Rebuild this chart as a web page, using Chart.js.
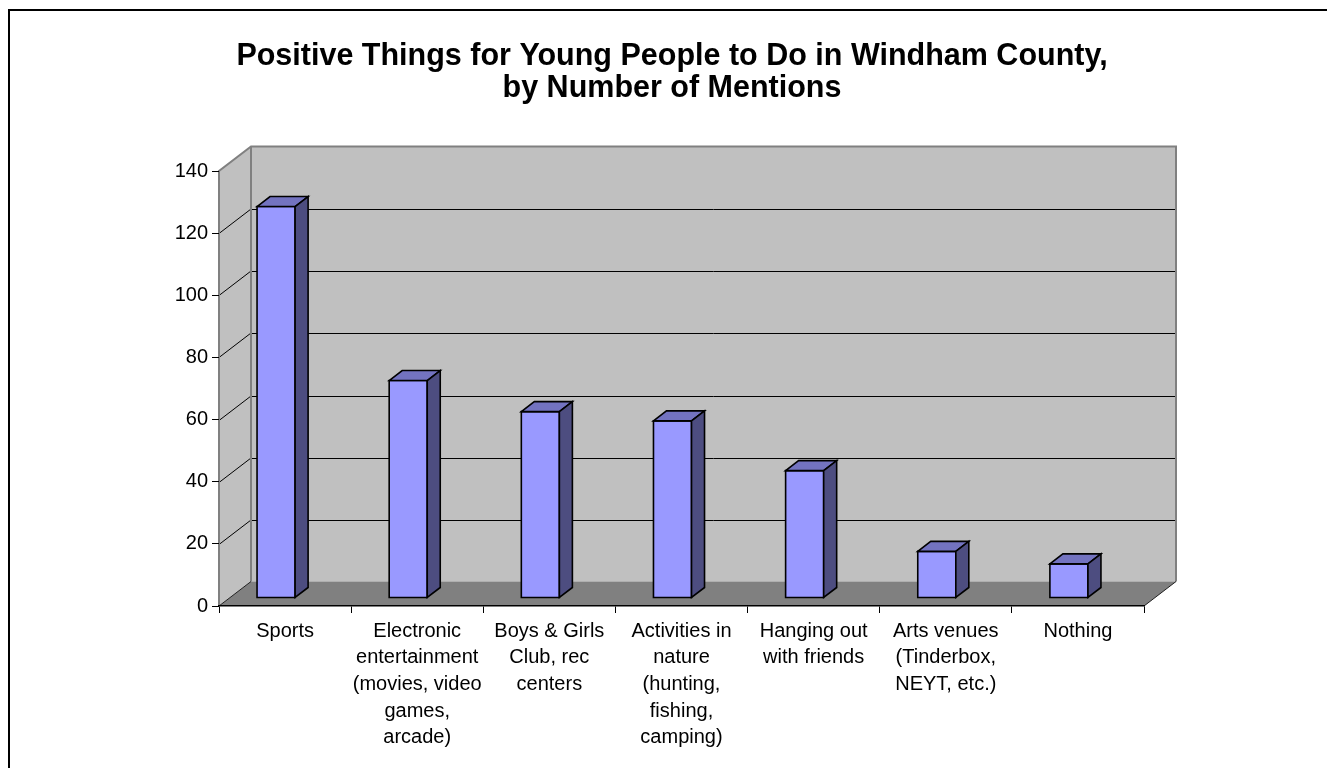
<!DOCTYPE html>
<html>
<head>
<meta charset="utf-8">
<script src="https://cdn.jsdelivr.net/npm/chart.js@4"></script>
<style>
  html, body { margin: 0; padding: 0; background: #fff; }
  canvas { display: block; }
</style>
</head>
<body>
<canvas id="mentions-chart" width="1327" height="768"></canvas>
<script>
const CATEGORIES = [
    'Sports',
    ['Electronic', 'entertainment', '(movies, video', 'games,', 'arcade)'],
    ['Boys & Girls', 'Club, rec', 'centers'],
    ['Activities in', 'nature', '(hunting,', 'fishing,', 'camping)'],
    ['Hanging out', 'with friends'],
    ['Arts venues', '(Tinderbox,', 'NEYT, etc.)'],
    'Nothing',
];
const MENTIONS = [126, 70, 60, 57, 41, 15, 11];
const Y_MIN = 0;
const Y_MAX = 140;
const Y_STEP = 20;

const TITLE_LINES = [
    'Positive Things for Young People to Do in Windham County,',
    'by Number of Mentions',
];

const FONT = "'Liberation Sans', Arial, sans-serif";

// depth of the wall box and of each bar, in pixels
const WALL_DX = 32;
const WALL_DY = -24.5;
const BAR_DX = 13;
const BAR_DY = -10;
// bars sit part way into the floor
const BAR_SHIFT_X = -9;
const BAR_SHIFT_Y = -8;

const poly = (ctx, pts, fill, stroke, lw) => {
    ctx.beginPath();
    ctx.moveTo(pts[0][0], pts[0][1]);
    for (let i = 1; i < pts.length; i++) ctx.lineTo(pts[i][0], pts[i][1]);
    ctx.closePath();
    if (fill) {
        ctx.fillStyle = fill;
        ctx.fill();
    }
    if (stroke) {
        ctx.strokeStyle = stroke;
        ctx.lineWidth = lw || 1;
        ctx.stroke();
    }
};

const line = (ctx, x1, y1, x2, y2, color, lw) => {
    ctx.beginPath();
    ctx.moveTo(x1, y1);
    ctx.lineTo(x2, y2);
    ctx.strokeStyle = color;
    ctx.lineWidth = lw || 1;
    ctx.stroke();
};

// walls, floor and gridlines behind the bars
const wallsPlugin = {
    id: 'walls3d',
    beforeDraw(chart) {
        const { ctx, chartArea: a, scales } = chart;
        const y = scales.y;
        const top = y.getPixelForValue(Y_MAX);
        const zero = y.getPixelForValue(Y_MIN);
        ctx.save();
        // side wall
        poly(ctx, [[a.left, top], [a.left + WALL_DX, top + WALL_DY], [a.left + WALL_DX, zero + WALL_DY], [a.left, zero]], '#c0c0c0');
        // back wall
        poly(ctx, [[a.left + WALL_DX, top + WALL_DY], [a.right + WALL_DX, top + WALL_DY], [a.right + WALL_DX, zero + WALL_DY], [a.left + WALL_DX, zero + WALL_DY]], '#c0c0c0');
        // gridlines
        for (let v = Y_MIN + Y_STEP; v < Y_MAX; v += Y_STEP) {
            const py = Math.round(y.getPixelForValue(v)) + 0.5;
            line(ctx, a.left, py, a.left + WALL_DX, py + WALL_DY, '#000', 1);
            line(ctx, a.left + WALL_DX, Math.round(py + WALL_DY) + 0.5, a.right + WALL_DX, Math.round(py + WALL_DY) + 0.5, '#000', 1);
        }
        // wall edges
        ctx.lineJoin = 'miter';
        ctx.beginPath();
        ctx.moveTo(a.left, zero);
        ctx.lineTo(a.left, top);
        ctx.lineTo(a.left + WALL_DX, top + WALL_DY);
        ctx.lineTo(a.right + WALL_DX, top + WALL_DY);
        ctx.lineTo(a.right + WALL_DX, zero + WALL_DY);
        ctx.moveTo(a.left + WALL_DX, top + WALL_DY);
        ctx.lineTo(a.left + WALL_DX, zero + WALL_DY);
        ctx.strokeStyle = '#808080';
        ctx.lineWidth = 2;
        ctx.stroke();
        // floor
        poly(ctx, [[a.left, zero], [a.right, zero], [a.right + WALL_DX, zero + WALL_DY], [a.left + WALL_DX, zero + WALL_DY]], '#808080');
        line(ctx, a.left, zero, a.left + WALL_DX, zero + WALL_DY, '#202020', 1);
        line(ctx, a.right, zero, a.right + WALL_DX, zero + WALL_DY, '#202020', 1);
        ctx.restore();
    },
};

// each bar drawn as a box from its element geometry
const boxesPlugin = {
    id: 'boxes3d',
    afterDatasetsDraw(chart) {
        const { ctx } = chart;
        const meta = chart.getDatasetMeta(0);
        ctx.save();
        ctx.lineJoin = 'miter';
        meta.data.forEach((bar) => {
            const l = bar.x - bar.width / 2 + BAR_SHIFT_X;
            const r = l + bar.width;
            const t = bar.y + BAR_SHIFT_Y;
            const b = bar.base + BAR_SHIFT_Y;
            poly(ctx, [[l, t], [r, t], [r, b], [l, b]], '#9999ff', '#000', 1.6);
            poly(ctx, [[l, t], [l + BAR_DX, t + BAR_DY], [r + BAR_DX, t + BAR_DY], [r, t]], '#7373c0', '#000', 1.6);
            poly(ctx, [[r, t], [r + BAR_DX, t + BAR_DY], [r + BAR_DX, b + BAR_DY], [r, b]], '#4d4d80', '#000', 1.6);
        });
        ctx.restore();
    },
};

const framePlugin = {
    id: 'frame',
    afterDraw(chart) {
        const { ctx, width, height } = chart;
        ctx.save();
        ctx.strokeStyle = '#000';
        ctx.lineWidth = 2;
        ctx.strokeRect(9, 10, width + 20, height + 20);
        ctx.restore();
    },
};

const buildConfig = () => ({
    type: 'bar',
    data: {
        labels: CATEGORIES,
        datasets: [
            {
                label: 'Mentions',
                data: MENTIONS,
                backgroundColor: 'rgba(0,0,0,0)',
                borderWidth: 0,
                categoryPercentage: 1,
                barPercentage: 0.288,
            },
        ],
    },
    options: {
        responsive: false,
        devicePixelRatio: 1,
        animation: false,
        layout: { padding: { left: 17, right: 0, top: 0, bottom: 0 } },
        plugins: {
            legend: { display: false },
            tooltip: { enabled: false },
            title: {
                display: true,
                text: TITLE_LINES,
                color: '#000',
                font: { family: FONT, size: 30.5, weight: 'bold', lineHeight: 1.05 },
                padding: { top: 41, bottom: 66 },
            },
        },
        scales: {
            x: {
                grid: {
                    offset: true,
                    drawOnChartArea: false,
                    drawTicks: true,
                    tickLength: 7,
                    color: '#000',
                },
                border: { display: true, color: '#000', width: 1.5 },
                ticks: {
                    color: '#000',
                    font: { family: FONT, size: 20, lineHeight: 1.33 },
                    padding: 5,
                    maxRotation: 0,
                    autoSkip: false,
                },
                afterFit: (scale) => {
                    scale.height = 162;
                },
            },
            y: {
                min: Y_MIN,
                max: Y_MAX,
                grid: {
                    drawOnChartArea: false,
                    drawTicks: true,
                    tickLength: 7,
                    tickColor: '#000',
                },
                border: { display: false },
                ticks: {
                    stepSize: Y_STEP,
                    color: '#000',
                    font: { family: FONT, size: 20 },
                    padding: 4,
                },
                afterFit: (scale) => {
                    scale.width = 202;
                },
            },
            // empty right-hand margin so the title centres on the page
            margin: {
                type: 'linear',
                position: 'right',
                grid: { display: false },
                border: { display: false },
                ticks: { display: false },
                afterFit: (scale) => {
                    scale.width = 183;
                },
            },
        },
    },
    plugins: [wallsPlugin, boxesPlugin, framePlugin],
});

(function () {
    const el = document.getElementById('mentions-chart');
    new Chart(el, buildConfig());
})();
</script>
</body>
</html>
